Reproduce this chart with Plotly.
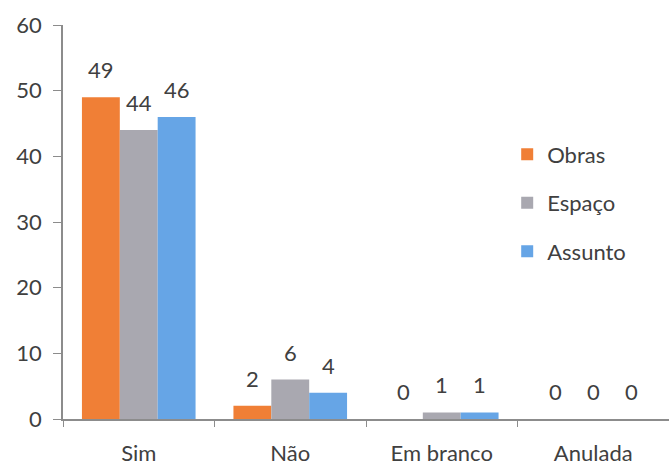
import plotly.graph_objects as go

categories = ["Sim", "Não", "Em branco", "Anulada"]
obras = [49, 2, 0, 0]
espaco = [44, 6, 1, 0]
assunto = [46, 4, 1, 0]
series_names = ["Obras", "Espaço", "Assunto"]
colors = ["#F07F36", "#A9A8B0", "#66A5E6"]
y_ticks = [0, 10, 20, 30, 40, 50, 60]

series = [obras, espaco, assunto]
font = "Lato, 'Open Sans', sans-serif"
txt = "#404040"

fig = go.Figure()
for name, vals, col in zip(series_names, series, colors):
    fig.add_trace(go.Bar(x=categories, y=vals, name=name, marker_color=col,
                         marker_line_width=0, legendgroup=name))

shifts = [-38, 0, 38]
for vals, sh in zip(series, shifts):
    for c, v in zip(categories, vals):
        fig.add_annotation(x=c, y=v, text=str(v), showarrow=False, xshift=sh,
                           yanchor="bottom", yshift=12,
                           font=dict(size=22, color=txt, family=font))

fig.update_layout(
    width=669, height=465,
    margin=dict(l=63, r=0, t=25, b=46),
    paper_bgcolor="white", plot_bgcolor="white",
    barmode="group", bargap=0.25, bargroupgap=0,
    font=dict(family=font, size=22, color=txt),
    legend=dict(x=0.733, y=0.725, xanchor="left", yanchor="top",
                font=dict(size=22, color=txt), traceorder="grouped",
                tracegroupgap=17, itemwidth=30, bgcolor="rgba(0,0,0,0)"),
    xaxis=dict(showline=True, linecolor="#8c8c8c", linewidth=1.5,
               ticks="outside", tickson="boundaries", ticklen=6,
               tickcolor="#8c8c8c", showgrid=False, ticklabelstandoff=14,
               automargin=False, tickfont=dict(size=22, color=txt)),
    yaxis=dict(range=[0, 60], tickvals=y_ticks, showline=True,
               linecolor="#8c8c8c", linewidth=1.5, ticks="outside",
               ticklen=8, tickcolor="#8c8c8c", showgrid=False, zeroline=False,
               automargin=False,
               ticklabelstandoff=7, tickfont=dict(size=22, color=txt)),
)

fig.write_html("out.html")
